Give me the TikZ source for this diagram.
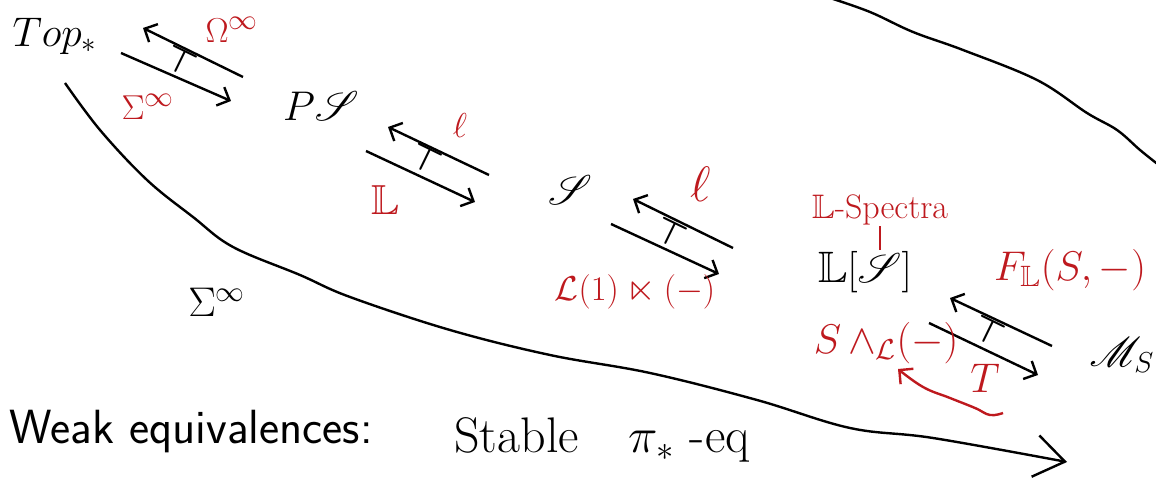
\documentclass[tikz,border=0pt]{standalone}
\usepackage{amsmath,amssymb}
\usepackage{mathrsfs}
\usepackage{xcolor}
\usetikzlibrary{arrows.meta, positioning, calc}
\definecolor{ink}{RGB}{190,25,30}

\begin{document}
\begin{tikzpicture}[x=0.5pt, y=-0.5pt, line width=1.2pt,
  every node/.style={font=\fontsize{22}{26}\selectfont, inner sep=0pt},
  lbl/.style={text=ink, font=\fontsize{19}{22}\selectfont},
  hand/.style={font=\fontsize{20}{24}\selectfont},
  adj/.style={-{Straight Barb[length=5pt, width=10pt]}},
  turn/.style={rotate=-26, font=\fontsize{16}{18}\selectfont}]
  \useasboundingbox (0,0) rectangle (1156,485);

  % the categories
  \node (top) at (55,36) {$Top_*$};
  \node (ps) at (321,106) {$P\mathscr{S}$};
  \node (sp) at (570,190) {$\mathscr{S}$};
  \node (ls) at (865,272) {$\mathbb{L}[\mathscr{S}]$};
  \node (ms) at (1122,355) {$\mathscr{M}_S$};

  % ends of the adjunction arrows
  \coordinate (u1a) at (243,77);  \coordinate (u1b) at (143,28);
  \coordinate (d1a) at (121,53);  \coordinate (d1b) at (231,101);
  \coordinate (u2a) at (489,175); \coordinate (u2b) at (388,127);
  \coordinate (d2a) at (366,151); \coordinate (d2b) at (475,202);
  \coordinate (u3a) at (733,248); \coordinate (u3b) at (633,199);
  \coordinate (d3a) at (611,224); \coordinate (d3b) at (719,274);
  \coordinate (u4a) at (1052,346); \coordinate (u4b) at (950,298);
  \coordinate (d4a) at (929,323); \coordinate (d4b) at (1038,375);

  \draw[adj] (u1a) -- (u1b);
  \draw[adj] (d1a) -- (d1b);
  \draw[adj] (u2a) -- (u2b);
  \draw[adj] (d2a) -- (d2b);
  \draw[adj] (u3a) -- (u3b);
  \draw[adj] (d3a) -- (d3b);
  \draw[adj] (u4a) -- (u4b);
  \draw[adj] (d4a) -- (d4b);

  \node[turn] (t1) at (181,61) {$\boldsymbol{\top}$};
  \node[turn] (t2) at (426,159) {$\boldsymbol{\top}$};
  \node[turn] (t3) at (671,233) {$\boldsymbol{\top}$};
  \node[turn] (t4) at (989,331) {$\boldsymbol{\top}$};

  % red labels
  \node[lbl] (om) at (232,30) {$\Omega^\infty$};
  \node[lbl] (sig) at (148,107) {$\Sigma^\infty$};
  \node[lbl] (ell1) at (460,126) {$\ell$};
  \node[lbl, font=\fontsize{21}{24}\selectfont] (bbl) at (385,200) {$\mathbb{L}$};
  \node[lbl, font=\fontsize{28}{30}\selectfont] (ell2) at (701,184) {$\ell$};
  \node[lbl] (lrt) at (635,292) {$\mathcal{L}(1)\ltimes(-)$};
  \node[lbl, font=\fontsize{17}{20}\selectfont] (lspec) at (880,210) {$\mathbb{L}$-Spectra};
  \draw[ink] (lspec.south) -- (lspec.south |- ls.north);
  \node[lbl, font=\fontsize{21}{24}\selectfont] (fl) at (1070,270) {$F_{\mathbb{L}}(S,-)$};
  \node[lbl, font=\fontsize{20}{23}\selectfont] (swl) at (886,343) {$S\,{\wedge}_{\mathcal{L}}(-)$};
  \node[lbl, font=\fontsize{21}{24}\selectfont] (tt) at (985,378) {$T$};
  \coordinate (curl) at (1003,413);
  \coordinate (curltip) at (898,369);
  \draw[ink, -{Straight Barb[length=5pt, width=10pt]}]
    plot[smooth, tension=0.7] coordinates {(curl) (990,415) (975,408) (950,398) (923,387) (curltip)};

  % the composite
  \coordinate (sigs) at (65,83);
  \coordinate (sige) at (1067,462);
  \draw[-{Straight Barb[length=15pt, width=21pt]}]
    plot[smooth, tension=0.6] coordinates {(sigs) (100,130) (147,180) (193,217) (233,247) (300,275)
      (350,297) (450,330) (550,355) (650,373) (757,400) (850,428) (933,438) (sige)};
  \node[hand] (sigb) at (217,302) {$\Sigma^\infty$};

  % bracket at the top right
  \draw plot[smooth, tension=0.6] coordinates {(830,-2) (870,12) (913,32) (963,50) (1037,80)
    (1087,113) (1117,130) (1140,150) (1160,166)};

  \node[anchor=west, font=\sffamily\fontsize{24}{28}\selectfont] (weq) at (8,432) {Weak equivalences:};
  \node[hand, font=\fontsize{25}{28}\selectfont] (stab) at (602,440) {Stable\quad $\pi_*$\ -eq};
\end{tikzpicture}
\end{document}
